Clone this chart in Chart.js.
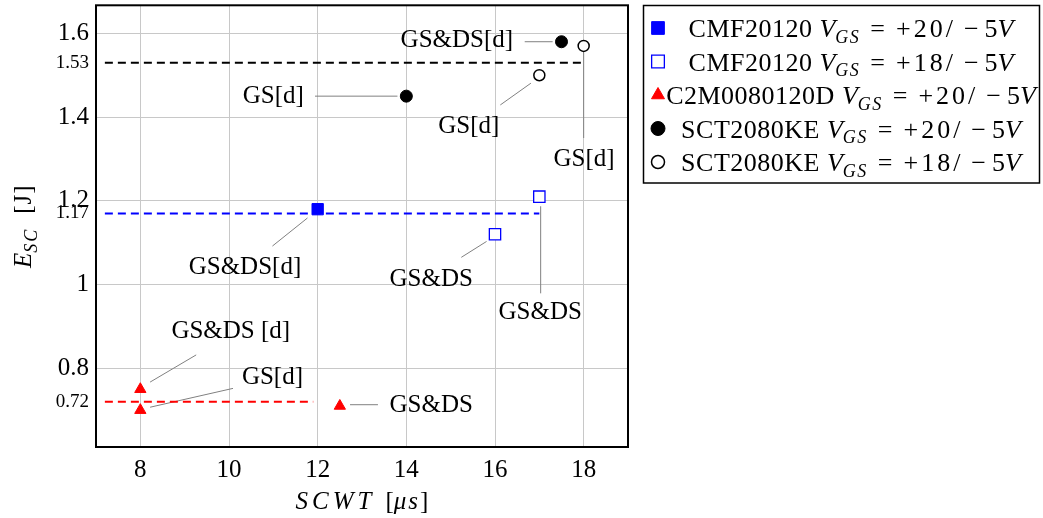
<!DOCTYPE html>
<html lang="en">
<head>
    <meta charset="UTF-8">
    <title>Short-circuit energy vs SCWT</title>
    <script src="https://cdn.jsdelivr.net/npm/chart.js"></script>
    <style>
        body {
            margin: 0;
            padding: 0;
            background-color: white;
            overflow: hidden;
        }

        #wrap {
            width: 1043px;
            height: 518px;
            overflow: hidden;
        }

        canvas {
            display: block;
            margin-top: -4px;
        }
    </style>
</head>
<body>
    <div id="wrap">
        <canvas id="chart" width="1043" height="522"></canvas>
    </div>

    <script>
        // data
        const cmf20X = [12];
        const cmf20Y = [1.18];
        const cmf18X = [16, 17];
        const cmf18Y = [1.12, 1.21];
        const c2mX = [8, 8, 12.5];
        const c2mY = [0.75, 0.70, 0.71];
        const sct20X = [14, 17.5];
        const sct20Y = [1.45, 1.58];
        const sct18X = [17, 18];
        const sct18Y = [1.50, 1.57];

        const refLevels = [1.53, 1.17, 0.72];
        const refFrom = [7.2, 7.2, 7.2];
        const refTo = [18, 17, 11.9];
        const refColors = ['#000000', '#0000ff', '#ff0000'];

        const xTicks = [8, 10, 12, 14, 16, 18];
        const yTicks = [0.72, 0.8, 1, 1.17, 1.2, 1.4, 1.53, 1.6];
        const yExtraTicks = [0.72, 1.17, 1.53];

        const deviceNames = ['CMF20120', 'CMF20120', 'C2M0080120D', 'SCT2080KE', 'SCT2080KE'];
        const gatePos = ['+20/', '+18/', '+20/', '+20/', '+18/'];
        const gateNeg = ['5', '5', '5', '5', '5'];

        // pin labels: text, text centre, pin start, pin end (data coords)
        const notes = [
            { text: 'GS&DS[d]', tx: 15.14, ty: 1.584, x1: 16.67, y1: 1.58, x2: 17.3, y2: 1.58 },
            { text: 'GS[d]', tx: 11.0, ty: 1.45, x1: 11.94, y1: 1.45, x2: 13.8, y2: 1.45 },
            { text: 'GS[d]', tx: 15.41, ty: 1.378, x1: 16.12, y1: 1.429, x2: 16.81, y2: 1.481 },
            { text: 'GS[d]', tx: 18.01, ty: 1.298, x1: 18, y1: 1.555, x2: 18, y2: 1.35 },
            { text: 'GS&DS[d]', tx: 10.36, ty: 1.041, x1: 10.98, y1: 1.092, x2: 11.77, y2: 1.159 },
            { text: 'GS&DS', tx: 14.56, ty: 1.013, x1: 15.24, y1: 1.065, x2: 15.81, y2: 1.103 },
            { text: 'GS&DS', tx: 17.02, ty: 0.933, x1: 17.03, y1: 1.187, x2: 17.03, y2: 0.979 },
            { text: 'GS&DS [d]', tx: 10.04, ty: 0.888, x1: 8.22, y1: 0.767, x2: 9.26, y2: 0.832 },
            { text: 'GS[d]', tx: 10.98, ty: 0.779, x1: 8.22, y1: 0.707, x2: 10.09, y2: 0.752 },
            { text: 'GS&DS', tx: 14.56, ty: 0.711, x1: 12.73, y1: 0.713, x2: 13.36, y2: 0.713 }
        ];

        const FAM = "'Liberation Serif', 'Times New Roman', serif";
        const SHIFT = 4; // canvas is pulled up by this much

        function pts(xs, ys) {
            return xs.map((x, i) => ({ x: x, y: ys[i] }));
        }

        const markerStyles = [
            { pointStyle: 'rect', pointRadius: 8, backgroundColor: '#0000ff', borderColor: '#0000ff', pointBorderWidth: 1 },
            { pointStyle: 'rect', pointRadius: 8, backgroundColor: '#ffffff', borderColor: '#0000ff', pointBorderWidth: 1.3 },
            { pointStyle: 'triangle', pointRadius: 6.5, backgroundColor: '#ff0000', borderColor: '#ff0000', pointBorderWidth: 1 },
            { pointStyle: 'circle', pointRadius: 6, backgroundColor: '#000000', borderColor: '#000000', pointBorderWidth: 1 },
            { pointStyle: 'circle', pointRadius: 5.5, backgroundColor: '#ffffff', borderColor: '#000000', pointBorderWidth: 1.5 }
        ];

        const seriesData = [pts(cmf20X, cmf20Y), pts(cmf18X, cmf18Y), pts(c2mX, c2mY), pts(sct20X, sct20Y), pts(sct18X, sct18Y)];

        const datasets = seriesData.map((d, i) => Object.assign({
            type: 'scatter',
            label: deviceNames[i] + ' VGS = ' + gatePos[i] + ' -' + gateNeg[i] + 'V',
            data: d,
            showLine: false
        }, markerStyles[i]));

        refLevels.forEach((lvl, i) => {
            datasets.push({
                type: 'line',
                label: 'ref ' + lvl,
                data: [{ x: refFrom[i], y: lvl }, { x: refTo[i], y: lvl }],
                borderColor: refColors[i],
                borderWidth: 2,
                borderDash: [8, 5],
                pointRadius: 0,
                fill: false
            });
        });

        // rich text helpers: segments {t, it, sub, gap, ls}
        function segFont(seg, size) {
            const s = seg.sub ? Math.round(size * 0.7) : size;
            return (seg.it ? 'italic ' : '') + s + 'px ' + FAM;
        }

        function segWidth(ctx, seg, size) {
            if (seg.gap) return seg.gap;
            ctx.font = segFont(seg, size);
            const ls = seg.ls || 0;
            return ctx.measureText(seg.t).width + ls * seg.t.length;
        }

        function drawRich(ctx, segs, x, y, size, align) {
            let w = 0;
            segs.forEach(seg => { w += segWidth(ctx, seg, size); });
            let cx = align === 'center' ? x - w / 2 : x;
            ctx.textAlign = 'left';
            ctx.textBaseline = 'alphabetic';
            segs.forEach(seg => {
                if (seg.gap) { cx += seg.gap; return; }
                ctx.font = segFont(seg, size);
                const yy = seg.sub ? y + size * 0.22 : y;
                if (seg.ls) {
                    for (const ch of seg.t) {
                        ctx.fillText(ch, cx, yy);
                        cx += ctx.measureText(ch).width + seg.ls;
                    }
                } else {
                    ctx.fillText(seg.t, cx, yy);
                    cx += ctx.measureText(seg.t).width;
                }
            });
        }

        const extrasPlugin = {
            id: 'extras',
            beforeDatasetsDraw(chart) {
                const ctx = chart.ctx;
                const xs = chart.scales.x;
                const ys = chart.scales.y;
                ctx.save();
                ctx.strokeStyle = '#808080';
                ctx.lineWidth = 1;
                notes.forEach(n => {
                    ctx.beginPath();
                    ctx.moveTo(xs.getPixelForValue(n.x1), ys.getPixelForValue(n.y1));
                    ctx.lineTo(xs.getPixelForValue(n.x2), ys.getPixelForValue(n.y2));
                    ctx.stroke();
                });
                ctx.restore();
            },
            afterDraw(chart) {
                const ctx = chart.ctx;
                const a = chart.chartArea;
                const xs = chart.scales.x;
                const ys = chart.scales.y;
                ctx.save();

                // frame
                ctx.strokeStyle = '#000';
                ctx.lineWidth = 2;
                ctx.strokeRect(a.left, a.top, a.right - a.left, a.bottom - a.top);

                // pin labels
                ctx.fillStyle = '#000';
                ctx.font = '25px ' + FAM;
                ctx.textAlign = 'center';
                ctx.textBaseline = 'middle';
                notes.forEach(n => {
                    ctx.fillText(n.text, xs.getPixelForValue(n.tx), ys.getPixelForValue(n.ty));
                });

                // axis titles
                drawRich(ctx, [
                    { t: 'SCWT', it: true, ls: 4 }, { gap: 10 }, { t: '[' }, { t: '\u03bcs', it: true, ls: 2 }, { t: ']' }
                ], (a.left + a.right) / 2, 509 + SHIFT, 25, 'center');

                ctx.save();
                ctx.translate(31, (a.top + a.bottom) / 2);
                ctx.rotate(-Math.PI / 2);
                drawRich(ctx, [
                    { t: 'E', it: true }, { t: 'SC', it: true, sub: true, ls: 2 }, { gap: 14 }, { t: '[J]', ls: 1 }
                ], 0, 0, 25, 'center');
                ctx.restore();

                // legend
                const lx = 643.5, ly = 5.5 + SHIFT, lw = 396, lh = 177.5;
                ctx.lineWidth = 1.5;
                ctx.strokeStyle = '#000';
                ctx.strokeRect(lx, ly, lw, lh);
                deviceNames.forEach((name, i) => {
                    const rowY = 28 + SHIFT + i * 33.5;
                    const st = markerStyles[i];
                    ctx.fillStyle = st.backgroundColor;
                    ctx.strokeStyle = st.borderColor;
                    ctx.lineWidth = st.pointBorderWidth;
                    Chart.helpers.drawPoint(ctx, {
                        pointStyle: st.pointStyle,
                        radius: st.pointRadius + 1,
                        rotation: 0,
                        borderWidth: st.pointBorderWidth
                    }, 658, rowY);
                    ctx.fillStyle = '#000';
                    drawRich(ctx, [
                        { t: name, ls: 0.5 }, { gap: 7 }, { t: 'V', it: true }, { t: 'GS', it: true, sub: true, ls: 1.5 },
                        { gap: 10 }, { t: '=' }, { gap: 11 }, { t: gatePos[i], ls: 3 }, { gap: 8 },
                        { t: '\u2212' }, { gap: 6 }, { t: gateNeg[i] }, { t: 'V', it: true }
                    ], 851, rowY + 9, 26, 'center');
                });

                ctx.restore();
            }
        };

        const ctx = document.getElementById('chart').getContext('2d');

        const myChart = new Chart(ctx, {
            data: { datasets: datasets },
            options: {
                responsive: false,
                animation: false,
                layout: { padding: { left: 0, top: 5, right: 415, bottom: 0 } },
                plugins: {
                    legend: { display: false },
                    tooltip: { enabled: false }
                },
                scales: {
                    x: {
                        type: 'linear',
                        min: 7,
                        max: 19,
                        afterBuildTicks: s => { s.ticks = xTicks.map(v => ({ value: v })); },
                        afterFit: s => { s.height = 71; s.paddingLeft = 0; s.paddingRight = 0; },
                        grid: { color: '#c8c8c8', drawTicks: false },
                        border: { display: false },
                        ticks: {
                            padding: 8,
                            color: '#000',
                            autoSkip: false,
                            maxRotation: 0,
                            font: { family: FAM, size: 25 }
                        }
                    },
                    y: {
                        type: 'linear',
                        min: 0.612,
                        max: 1.667,
                        afterBuildTicks: s => { s.ticks = yTicks.map(v => ({ value: v })); },
                        afterFit: s => { s.width = 96; s.paddingTop = 0; s.paddingBottom = 0; },
                        grid: {
                            drawTicks: false,
                            color: c => (c.tick && yExtraTicks.includes(c.tick.value)) ? 'rgba(0,0,0,0)' : '#c8c8c8'
                        },
                        border: { display: false },
                        ticks: {
                            padding: 7,
                            color: '#000',
                            autoSkip: false,
                            callback: v => String(v),
                            font: c => ({
                                family: FAM,
                                size: (c.tick && yExtraTicks.includes(c.tick.value)) ? 19 : 25
                            })
                        }
                    }
                }
            },
            plugins: [extrasPlugin]
        });
    </script>
</body>
</html>
